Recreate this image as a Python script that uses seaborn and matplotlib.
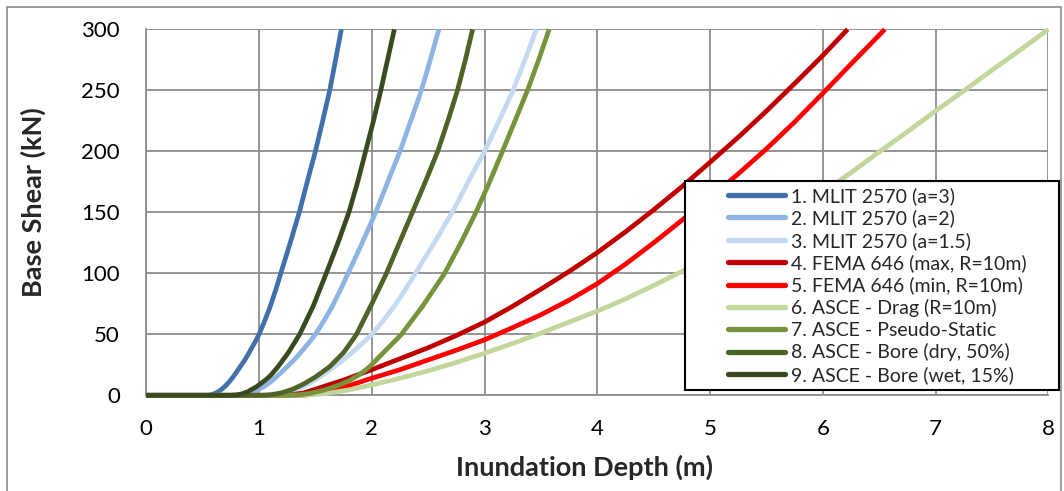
import matplotlib
matplotlib.use("Agg")
import matplotlib.pyplot as plt
import seaborn as sns
import pandas as pd
from matplotlib.patches import Rectangle
from matplotlib.lines import Line2D

# ---------------- data ----------------
labels = ["1. MLIT 2570 (a=3)", "2. MLIT 2570 (a=2)", "3. MLIT 2570 (a=1.5)",
          "4. FEMA 646 (max, R=10m)", "5. FEMA 646 (min, R=10m)",
          "6. ASCE - Drag (R=10m)", "7. ASCE - Pseudo-Static",
          "8. ASCE - Bore (dry, 50%)", "9. ASCE - Bore (wet, 15%)"]
colors = ["#4270AA", "#8DB4E2", "#C5D9F1", "#C00000", "#FF0000",
          "#C3D69B", "#77933C", "#4F6228", "#3A4A1F"]

mlit_shear = [0, 0, 0.3, 1.2, 2.7, 4.8, 7.5, 10.8, 14.7, 19, 23.5, 28, 33, 38.5, 44, 50,
              61, 73, 87, 100, 127, 150, 177, 200, 226, 250, 277, 300]
mlit3_depth = [0, 0.533, 0.567, 0.6, 0.633, 0.667, 0.7, 0.733, 0.767, 0.8, 0.833, 0.867, 0.9,
               0.933, 0.967, 1.0, 1.05, 1.1, 1.15, 1.193, 1.283, 1.357, 1.433, 1.5, 1.567,
               1.627, 1.683, 1.73]
mlit2_depth = [0, 0.8, 0.85, 0.9, 0.95, 1.0, 1.05, 1.1, 1.15, 1.2, 1.25, 1.3, 1.35, 1.4, 1.45,
               1.5, 1.575, 1.65, 1.725, 1.79, 1.925, 2.035, 2.15, 2.25, 2.35, 2.44, 2.525, 2.595]
mlit15_depth = [0, 1.067, 1.133, 1.2, 1.267, 1.333, 1.4, 1.467, 1.533, 1.6, 1.667, 1.733, 1.8,
                1.867, 1.933, 2.0, 2.1, 2.2, 2.3, 2.387, 2.567, 2.713, 2.867, 3.0, 3.133,
                3.253, 3.367, 3.46]

femamax_depth = [0, 1.25, 1.4, 1.5, 1.75, 2, 2.25, 2.5, 2.75, 3, 3.25, 3.5, 3.75, 4, 4.25,
                 4.5, 4.75, 5, 5.25, 5.5, 5.75, 6, 6.22]
femamax_shear = [0, 0, 2, 5, 12.5, 21, 30, 39, 49, 60, 73, 87, 101.5, 117, 134,
                 152, 171, 191, 211.5, 233, 255.5, 278.5, 300]
femamin_depth = [0, 1.4, 1.6, 1.8, 2, 2.25, 2.5, 2.75, 3, 3.25, 3.5, 3.75, 4, 4.25, 4.5,
                 4.75, 5, 5.25, 5.5, 5.75, 6, 6.25, 6.55]
femamin_shear = [0, 0, 3, 8, 14, 21, 29, 37, 45.5, 55.5, 66, 78, 91.5, 107.5, 125,
                 143.5, 162, 181.5, 202, 224, 247.5, 271.5, 300]

drag_depth = [0, 1.4, 1.6, 1.8, 2, 2.25, 2.5, 2.75, 3, 3.25, 3.5, 3.75, 4, 4.25, 4.5, 4.75,
              5, 5.25, 5.5, 5.75, 6, 6.25, 6.5, 6.75, 7, 7.25, 7.5, 7.75, 8]
drag_shear = [0, 0, 1.5, 4.5, 8.5, 14, 20, 27, 34.5, 42.5, 51, 60, 69, 79, 90, 101.5,
              113.5, 126, 138.5, 152, 166.5, 182.5, 199.5, 216, 233, 249.5, 266.5, 283, 300]

pseudo_depth = [0, 1.26, 1.35, 1.45, 1.566, 1.7, 1.8, 1.9, 1.98, 2.067, 2.157, 2.26, 2.45,
                2.643, 2.79, 2.924, 3.045, 3.159, 3.27, 3.381, 3.48, 3.573]
pseudo_shear = [0, 0, 0.4, 1.5, 4, 8, 12, 17.5, 23.4, 31.6, 40, 49.6, 73,
                99.5, 125, 150, 175, 200, 225, 250, 275, 300]

boredry_depth = [0, 1.03, 1.1, 1.2, 1.3, 1.4, 1.5, 1.626, 1.75, 1.862, 2.0, 2.13, 2.245,
                 2.36, 2.475, 2.585, 2.675, 2.76, 2.83, 2.894]
boredry_shear = [0, 0, 0.4, 2, 5, 9.5, 15, 23.4, 35, 49.6, 75, 100, 125,
                 150, 175, 200, 225, 250, 275, 300]

borewet_depth = [0, 0.75, 0.8, 0.85, 0.9, 0.977, 1.05, 1.1, 1.168, 1.26, 1.36, 1.48, 1.596,
                 1.70, 1.797, 1.875, 1.945, 2.015, 2.08, 2.14, 2.2]
borewet_shear = [0, 0, 0.33, 1.3, 3, 7, 12, 16, 23.4, 35, 50, 73, 100,
                 125, 150, 175, 200, 225, 250, 275, 300]

x_ticks = [0, 1, 2, 3, 4, 5, 6, 7, 8]
y_ticks = [0, 50, 100, 150, 200, 250, 300]

series = [
    (mlit3_depth, mlit_shear), (mlit2_depth, mlit_shear), (mlit15_depth, mlit_shear),
    (femamax_depth, femamax_shear), (femamin_depth, femamin_shear),
    (drag_depth, drag_shear), (pseudo_depth, pseudo_shear),
    (boredry_depth, boredry_shear), (borewet_depth, borewet_shear),
]
frames = []
for lab, (d, s) in zip(labels, series):
    frames.append(pd.DataFrame({"depth": d, "shear": s, "series": lab}))
df = pd.concat(frames, ignore_index=True)

# ---------------- style ----------------
sns.set_theme(style="white")
plt.rcParams["font.family"] = ["Lato", "DejaVu Sans"]

W, H = 1064, 491
fig = plt.figure(figsize=(W / 100, H / 100), dpi=100)
ax = fig.add_axes([146.3 / W, 1 - 395.3 / H, (1048.3 - 146.3) / W, (395.3 - 29.3) / H])

grid_c = "#8C8C8C"
sns.lineplot(data=df, x="depth", y="shear", hue="series", hue_order=labels,
             palette=dict(zip(labels, colors)), linewidth=3.4, sort=False,
             estimator=None, legend=False, ax=ax, clip_on=False, zorder=3,
             solid_joinstyle="round", solid_capstyle="butt")

ax.set_xlim(0, 8)
ax.set_ylim(0, 300)
ax.set_xticks(x_ticks)
ax.set_yticks(y_ticks)
ax.set_xticklabels([str(v) for v in x_ticks])
ax.set_yticklabels([str(v) for v in y_ticks])
ax.grid(True, color=grid_c, linewidth=1.3, zorder=0)
ax.set_axisbelow(True)
for side in ["top", "right"]:
    ax.spines[side].set_visible(False)
for side in ["left", "bottom"]:
    ax.spines[side].set_color(grid_c)
    ax.spines[side].set_linewidth(1.3)
ax.tick_params(axis="both", which="major", direction="out", length=5, width=1.3,
               color=grid_c, labelsize=16, labelcolor="black")
ax.tick_params(axis="y", pad=14)
ax.tick_params(axis="x", pad=12)

ax.set_xlabel("Inundation Depth (m)", fontsize=19.5, fontweight="bold")
ax.set_ylabel("Base Shear (kN)", fontsize=19.5, fontweight="bold")
ax.xaxis.label.set_verticalalignment("center")
ax.yaxis.label.set_verticalalignment("center")
ax.xaxis.set_label_coords((584 - 146.3) / 902, -(467 - 395.3) / 366)
ax.yaxis.set_label_coords((33 - 146.3) / 902, (395.3 - 202) / 366)

# legend with a square black frame drawn as a figure patch
handles = [Line2D([0], [0], color=c, lw=3.8, solid_capstyle="round") for c in colors]
leg = fig.legend(handles, labels, loc="upper left",
                 bbox_to_anchor=(722 / W, 1 - 181 / H), frameon=False,
                 fontsize=14, handlelength=2.95, handletextpad=0.28,
                 labelspacing=0.235, borderpad=0.3, borderaxespad=0)
fig.add_artist(Rectangle((685 / W, 1 - 390 / H), (1059 - 685) / W, (390 - 181) / H,
                         transform=fig.transFigure, facecolor="white",
                         edgecolor="black", linewidth=1.5, zorder=4))
leg.set_zorder(5)

# outer chart-area border
fig.add_artist(Rectangle((7 / W, -0.05), (1061 - 7) / W, 1 - 7 / H + 0.05,
                         transform=fig.transFigure, facecolor="none",
                         edgecolor="#8C8C8C", linewidth=1.2, zorder=0))

fig.savefig("out.png", dpi=100)
